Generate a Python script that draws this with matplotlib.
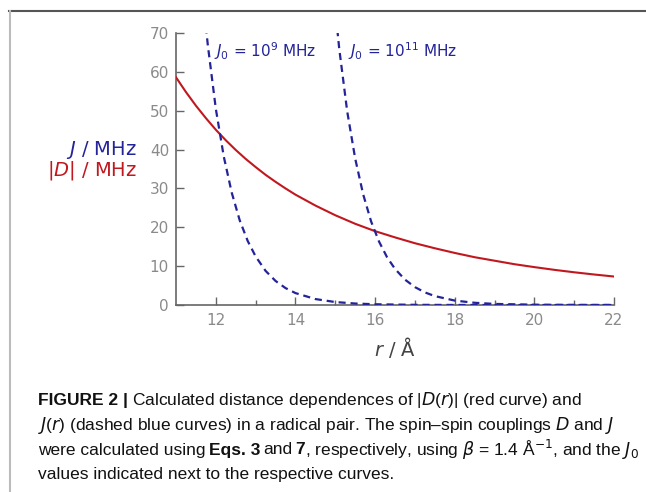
import numpy as np
from matplotlib import pyplot as plt
from matplotlib.lines import Line2D

plt.rcParams['mathtext.fontset'] = 'custom'
plt.rcParams['mathtext.rm'] = 'DejaVu Sans'
plt.rcParams['mathtext.it'] = 'DejaVu Sans:italic'
plt.rcParams['mathtext.bf'] = 'DejaVu Sans:bold'

# |D(r)| red curve
r_d = [11, 11.25, 11.5, 11.75, 12, 12.25, 12.5, 12.75, 13, 13.25, 13.5, 13.75,
       14, 14.5, 15, 15.5, 16, 16.5, 17, 17.5, 18, 18.5, 19, 19.5, 20, 20.5,
       21, 21.5, 22]
d_vals = [58.6, 54.8, 51.3, 48.1, 45.1, 42.4, 39.9, 37.6, 35.5, 33.5, 31.7,
          30.0, 28.4, 25.6, 23.1, 20.9, 19.0, 17.4, 15.9, 14.6, 13.4, 12.3,
          11.4, 10.5, 9.75, 9.05, 8.42, 7.85, 7.33]

# J(r) for J0 = 1e9 MHz
r_j9 = [11.75, 11.8, 12.0, 12.2, 12.4, 12.6, 12.8, 13.0, 13.25, 13.5, 13.75,
        14.0, 14.5, 15.0, 15.5, 16.0, 17.0, 18.0, 19.0, 20.0, 22.0]
j9_vals = [71.7, 66.8, 50.5, 38.2, 28.9, 21.8, 16.5, 12.5, 8.78, 6.19, 4.36,
           3.07, 1.53, 0.76, 0.38, 0.19, 0.046, 0.011, 0.003, 0.001, 0.0]

# J(r) for J0 = 1e11 MHz
r_j11 = [15.05, 15.1, 15.3, 15.5, 15.7, 15.9, 16.1, 16.3, 16.5, 16.75, 17.0,
         17.25, 17.5, 18.0, 18.5, 19.0, 20.0, 21.0, 22.0]
j11_vals = [71.0, 65.9, 49.8, 37.7, 28.5, 21.5, 16.3, 12.3, 9.29, 6.54, 4.61,
            3.25, 2.29, 1.14, 0.57, 0.28, 0.07, 0.017, 0.004]

red = '#c0181e'
blue = '#23239a'
gray = '#666666'
tickgray = '#8a8a8a'
ink = '#111111'

fig = plt.figure(figsize=(6.46, 4.92), dpi=100)

# frame lines of the figure box
fig.add_artist(Line2D([9 / 646, 1], [1 - 11 / 492] * 2, color='#555555', lw=1.5))
fig.add_artist(Line2D([9.5 / 646] * 2, [0, 1 - 11 / 492], color='#bbbbbb', lw=1.5))

ax = fig.add_axes([176 / 646, 1 - 305 / 492, (614 - 176) / 646, (305 - 33) / 492])

ax.plot(r_d, d_vals, color=red, lw=1.5, zorder=4)
ax.plot(r_j9, j9_vals, color=blue, lw=1.6, ls=(0, (3.2, 2.2)), zorder=5)
ax.plot(r_j11, j11_vals, color=blue, lw=1.6, ls=(0, (3.2, 2.2)), zorder=5)

ax.set_xlim(11, 22)
ax.set_ylim(0, 70)
ax.set_xticks([12, 14, 16, 18, 20, 22])
ax.set_xticks([13, 15, 17, 19, 21], minor=True)
ax.set_yticks(range(0, 71, 10))

for s in ['top', 'right']:
    ax.spines[s].set_visible(False)
for s in ['left', 'bottom']:
    ax.spines[s].set_color(gray)
    ax.spines[s].set_linewidth(1.2)

ax.tick_params(axis='both', which='major', direction='in', length=6, width=1,
               color=gray, labelcolor=tickgray, labelsize=11)
ax.tick_params(axis='x', which='minor', direction='in', length=3.5, width=1, color=gray)
ax.tick_params(axis='x', pad=6)
ax.tick_params(axis='y', pad=5)

ax.text(11.95, 65.3, r'$J_0$ = 10$^9$ MHz', color=blue, fontsize=11, va='center')
ax.text(15.33, 65.3, r'$J_0$ = 10$^{11}$ MHz', color=blue, fontsize=11, va='center')

fig.text(137 / 646, 1 - 150 / 492, r'$J$ / MHz', color=blue, fontsize=14,
         ha='right', va='center')
fig.text(137 / 646, 1 - 171 / 492, r'$|D|$ / MHz', color=red, fontsize=14,
         ha='right', va='center')
fig.text(395 / 646, 1 - 347 / 492, r'$r$ / Å', color='#444444', fontsize=14,
         ha='center', va='center')

cap_font = ['Liberation Sans', 'DejaVu Sans']
cap_size = 12.5
x0 = 38 / 646
ys = [400, 425, 450, 475]


def put(x, y, s, bold=False):
    t = fig.text(x, 1 - y / 492, s, fontsize=cap_size, family=cap_font,
                 fontweight='bold' if bold else 'normal', va='center', color=ink)
    fig.canvas.draw()
    return t.get_window_extent().x1 / 646


# caption line 1
x = put(x0, ys[0], 'FIGURE 2 |', bold=True)
put(x + 0.006, ys[0], r'Calculated distance dependences of |$D$($r$)| (red curve) and')
# caption line 2
put(x0, ys[1], r'$J$($r$) (dashed blue curves) in a radical pair. The spin–spin couplings $D$ and $J$')
# caption line 3
x = put(x0, ys[2], 'were calculated using')
x = put(x + 0.005, ys[2], 'Eqs. 3', bold=True)
x = put(x + 0.005, ys[2], 'and')
x = put(x + 0.005, ys[2], '7', bold=True)
put(x, ys[2], r', respectively, using $\beta$ = 1.4 Å$^{-1}$, and the $J_0$')
# caption line 4
put(x0, ys[3], 'values indicated next to the respective curves.')

plt.savefig('out.png', dpi=100)
